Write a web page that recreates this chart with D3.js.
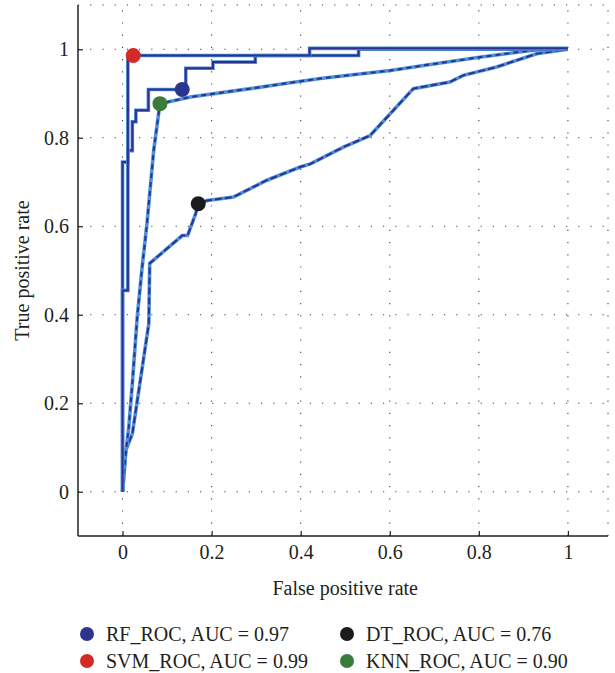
<!DOCTYPE html>
<html>
<head>
<meta charset="utf-8">
<script src="https://cdnjs.cloudflare.com/ajax/libs/d3/7.8.5/d3.min.js"></script>
<style>
  body { margin: 0; background: #fff; }
</style>
</head>
<body>
<div id="roc"></div>
<script>
// ROC curves (false positive rate / true positive rate)
var rfFpr  = [0, 0, 0.012, 0.012, 0.022, 0.022, 0.030, 0.030, 0.058, 0.058, 0.134, 0.142, 0.142, 0.203, 0.203, 0.298, 0.298, 0.53, 0.53, 1];
var rfTpr  = [0, 0.745, 0.745, 0.771, 0.771, 0.836, 0.836, 0.862, 0.862, 0.909, 0.909, 0.909, 0.957, 0.957, 0.971, 0.971, 0.986, 0.986, 1, 1];
var svmFpr = [0, 0, 0.012, 0.012, 0.42, 0.42, 1];
var svmTpr = [0, 0.455, 0.455, 0.986, 0.986, 1.002, 1.002];
var dtFpr  = [0, 0.007, 0.022, 0.059, 0.061, 0.134, 0.146, 0.164, 0.17, 0.19, 0.249, 0.324, 0.399, 0.422, 0.496, 0.556, 0.653, 0.735, 0.765, 0.84, 0.93, 1];
var dtTpr  = [0, 0.093, 0.131, 0.38, 0.516, 0.579, 0.579, 0.628, 0.651, 0.658, 0.666, 0.704, 0.734, 0.741, 0.779, 0.805, 0.911, 0.926, 0.941, 0.96, 0.99, 1];
var knnFpr = [0, 0.007, 0.014, 0.022, 0.033, 0.044, 0.055, 0.070, 0.084, 0.152, 0.287, 0.361, 0.444, 0.601, 0.706, 0.809, 0.922, 1];
var knnTpr = [0, 0.085, 0.146, 0.245, 0.395, 0.508, 0.607, 0.772, 0.877, 0.892, 0.911, 0.922, 0.934, 0.952, 0.968, 0.983, 0.998, 1];

// operating points (the big dots) and legend
var names     = ["RF_ROC, AUC = 0.97", "SVM_ROC, AUC = 0.99", "DT_ROC, AUC = 0.76", "KNN_ROC, AUC = 0.90"];
var pointFpr  = [0.134, 0.024, 0.17, 0.084];
var pointTpr  = [0.909, 0.986, 0.651, 0.877];
var tickVals  = [0, 0.2, 0.4, 0.6, 0.8, 1];

var dotColors = ["#2b3590", "#d42a2a", "#1b1b1b", "#3a7b3c"];
var navy = "#2e3192", light = "#4b93d6";
var serif = "'Liberation Serif', 'Times New Roman', 'DejaVu Serif', serif";

var W = 615, H = 673;
var svg = d3.select("#roc").append("svg")
    .attr("width", W)
    .attr("height", H);

var x = d3.scaleLinear().domain([-0.1, 1.09]).range([78, 608]);
var y = d3.scaleLinear().domain([-0.1, 1.1]).range([536, 5]);

// dotted grid, also on top and right edge
var grid = svg.append("g");
grid.selectAll(".gx").data(tickVals.concat([1.09]))
  .enter().append("line")
    .attr("x1", d => x(d)).attr("x2", d => x(d))
    .attr("y1", y(-0.1)).attr("y2", y(1.1))
    .attr("stroke", "#444").attr("stroke-width", 1.1)
    .attr("stroke-dasharray", "1.2,11");
grid.selectAll(".gy").data(tickVals.concat([1.1]))
  .enter().append("line")
    .attr("y1", d => y(d)).attr("y2", d => y(d))
    .attr("x1", x(-0.1)).attr("x2", x(1.09))
    .attr("stroke", "#444").attr("stroke-width", 1.1)
    .attr("stroke-dasharray", "1.2,11");

// axes with ticks pointing inwards
var xAxis = svg.append("g")
    .attr("transform", "translate(0," + y(-0.1) + ")")
    .call(d3.axisBottom(x).tickValues(tickVals).tickSize(-5).tickPadding(9).tickFormat(d3.format("")));
var yAxis = svg.append("g")
    .attr("transform", "translate(" + x(-0.1) + ",0)")
    .call(d3.axisLeft(y).tickValues(tickVals).tickSize(-5).tickPadding(9).tickFormat(d3.format("")));

[xAxis, yAxis].forEach(function(a) {
  a.attr("font-family", null).attr("font-size", null);
  a.select(".domain").attr("stroke", "#231f20").attr("stroke-width", 1.5);
  a.selectAll(".tick line").attr("stroke", "#231f20").attr("stroke-width", 1.2);
  a.selectAll(".tick text")
    .style("font-family", serif).style("font-size", "20px")
    .attr("fill", "#231f20");
});
// drop the domain end caps so only the axis lines remain
xAxis.select(".domain").attr("d", "M" + x(-0.1) + ",0H" + x(1.09));
yAxis.select(".domain").attr("d", "M0," + y(-0.1) + "V" + y(1.1));

svg.append("text")
    .attr("x", (x(0) + x(1)) / 2).attr("y", 595)
    .attr("text-anchor", "middle")
    .style("font-family", serif).style("font-size", "20px")
    .attr("fill", "#231f20")
    .text("False positive rate");
svg.append("text")
    .attr("transform", "translate(29," + y(0.5) + ") rotate(-90)")
    .attr("text-anchor", "middle")
    .style("font-family", serif).style("font-size", "20px")
    .attr("fill", "#231f20")
    .text("True positive rate");

// curves: light blue halo under a dark line
var line = d3.line().x(d => x(d[0])).y(d => y(d[1]));
var curves = [
  {fpr: dtFpr,  tpr: dtTpr,  dash: "7,3"},
  {fpr: knnFpr, tpr: knnTpr, dash: "5,4"},
  {fpr: rfFpr,  tpr: rfTpr,  dash: null},
  {fpr: svmFpr, tpr: svmTpr, dash: null}
];
var cg = svg.append("g").attr("fill", "none");
curves.forEach(function(c) {
  var pts = d3.zip(c.fpr, c.tpr);
  cg.append("path").attr("d", line(pts))
    .attr("stroke", light).attr("stroke-width", 3.6);
  cg.append("path").attr("d", line(pts))
    .attr("stroke", navy).attr("stroke-width", 2)
    .attr("stroke-dasharray", c.dash);
});

svg.selectAll(".pt").data(names)
  .enter().append("circle")
    .attr("cx", (d, i) => x(pointFpr[i]))
    .attr("cy", (d, i) => y(pointTpr[i]))
    .attr("r", 7.5)
    .attr("fill", (d, i) => dotColors[i]);

// legend, two columns
var lg = svg.selectAll(".lg").data(names)
  .enter().append("g")
    .attr("transform", (d, i) => "translate(" + (i < 2 ? 87 : 347) + "," + (i % 2 ? 661 : 634) + ")");
lg.append("circle").attr("r", 7).attr("fill", (d, i) => dotColors[i]);
lg.append("text")
    .attr("x", 19).attr("dy", "0.33em")
    .style("font-family", serif).style("font-size", "20px")
    .attr("fill", "#231f20")
    .text(d => d);
</script>
</body>
</html>
